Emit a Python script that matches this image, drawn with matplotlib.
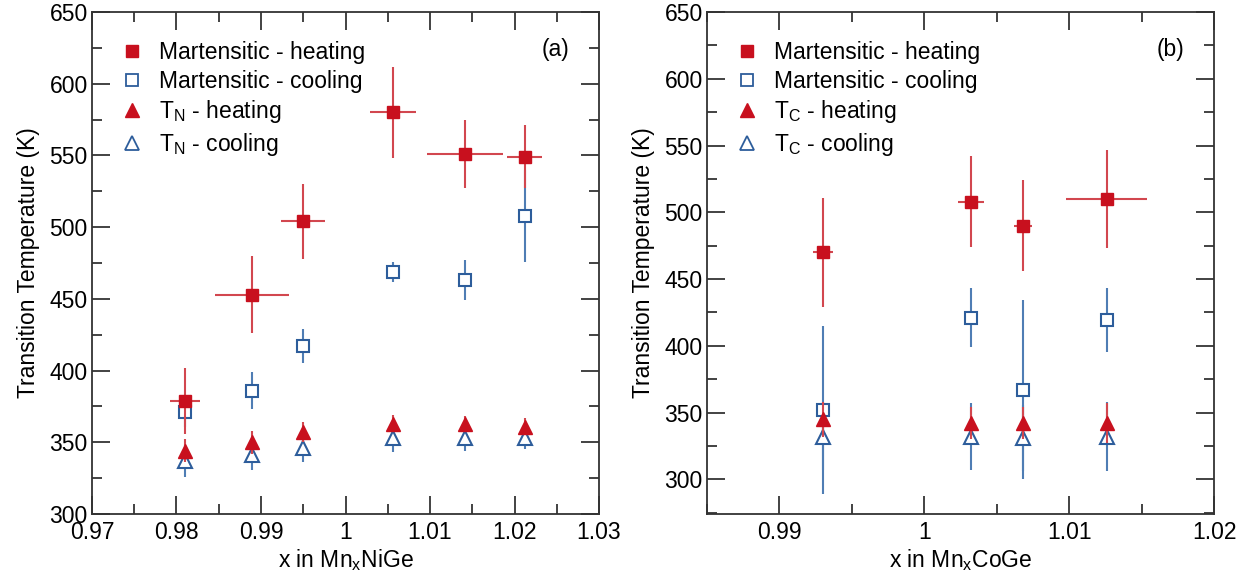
import matplotlib.pyplot as plt
from matplotlib.lines import Line2D
from matplotlib.ticker import MultipleLocator, FuncFormatter

plt.rcParams['font.family'] = ['Liberation Sans', 'DejaVu Sans']
plt.rcParams['mathtext.fontset'] = 'custom'
plt.rcParams['mathtext.rm'] = 'Liberation Sans'

# Mn_x NiGe
x_ni = [0.981, 0.9889, 0.995, 1.0056, 1.0141, 1.0212]
xerr_ni = [0.0018, 0.0044, 0.0026, 0.0027, 0.0045, 0.0021]
mart_heat_ni = [379, 453, 504, 580, 551, 549]
mart_heat_ni_err = [23, 27, 26, 32, 24, 22]
mart_cool_ni = [371, 386, 417, 469, 463, 508]
mart_cool_ni_err = [10, 13, 12, 7, 14, 32]
tn_heat = [344, 350, 357, 363, 363, 361]
tn_heat_err = [8, 8, 7, 6, 5, 6]
tn_cool = [337, 341, 346, 353, 353, 353]
tn_cool_err = [11, 10, 10, 10, 9, 8]

# Mn_x CoGe
x_co = [0.993, 1.0032, 1.0068, 1.0126]
xerr_co = [0.0007, 0.0009, 0.0006, 0.0028]
mart_heat_co = [470, 508, 490, 510]
mart_heat_co_err = [41, 34, 34, 37]
mart_cool_co = [352, 421, 367, 419]
mart_cool_co_err = [63, 22, 67, 24]
tc_heat = [345, 342, 342, 342]
tc_heat_err = [13, 12, 12, 15]
tc_cool = [332, 332, 331, 332]
tc_cool_err = [25, 25, 25, 26]

RED = '#c8101e'
RED_BAR = '#d2474f'
BLUE = '#2d5d9b'
BLUE_BAR = '#4f7db4'
FS = 16.5

fig = plt.figure(figsize=(12.48, 5.81), dpi=100)
ax1 = fig.add_axes([0.0737, 0.1153, 0.4063, 0.864])
ax2 = fig.add_axes([0.5665, 0.1153, 0.4063, 0.864])


def draw(ax, x, xerr, mh, mh_e, mc, mc_e, th, th_e, tcl, tcl_e):
    ax.errorbar(x, tcl, yerr=tcl_e, fmt='^', ms=10, mfc='white', mec=BLUE, mew=1.5,
                ecolor=BLUE_BAR, elinewidth=1.5, capsize=0, zorder=2)
    ax.errorbar(x, mc, yerr=mc_e, fmt='s', ms=8.5, mfc='white', mec=BLUE, mew=1.5,
                ecolor=BLUE_BAR, elinewidth=1.5, capsize=0, zorder=2)
    ax.errorbar(x, th, yerr=th_e, fmt='^', ms=10, mfc=RED, mec=RED, mew=1,
                ecolor=RED_BAR, elinewidth=1.5, capsize=0, zorder=3)
    ax.errorbar(x, mh, yerr=mh_e, xerr=xerr, fmt='s', ms=9, mfc=RED, mec=RED, mew=1,
                ecolor=RED_BAR, elinewidth=1.5, capsize=0, zorder=3)


draw(ax1, x_ni, xerr_ni, mart_heat_ni, mart_heat_ni_err, mart_cool_ni, mart_cool_ni_err,
     tn_heat, tn_heat_err, tn_cool, tn_cool_err)
draw(ax2, x_co, xerr_co, mart_heat_co, mart_heat_co_err, mart_cool_co, mart_cool_co_err,
     tc_heat, tc_heat_err, tc_cool, tc_cool_err)

ax1.set_xlim(0.97, 1.03)
ax1.set_ylim(300, 650)
ax2.set_xlim(0.985, 1.02)
ax2.set_ylim(274, 650)

fmt = FuncFormatter(lambda v, p: '%g' % round(v, 4))
for ax, sym, comp, tag in [(ax1, 'N', 'Ni', '(a)'), (ax2, 'C', 'Co', '(b)')]:
    ax.xaxis.set_major_locator(MultipleLocator(0.01))
    ax.xaxis.set_minor_locator(MultipleLocator(0.005))
    ax.yaxis.set_major_locator(MultipleLocator(50))
    ax.yaxis.set_minor_locator(MultipleLocator(25))
    ax.xaxis.set_major_formatter(fmt)
    ax.tick_params(which='both', direction='in', top=True, right=True,
                   labelsize=FS, color='#222222', width=1.2)
    ax.tick_params(which='major', length=13)
    ax.tick_params(which='minor', length=7)
    ax.tick_params(axis='x', which='major', pad=5)
    ax.tick_params(axis='y', which='major', pad=3)
    for s in ax.spines.values():
        s.set_linewidth(1.3)
        s.set_color('#333333')
    ax.set_ylabel('Transition Temperature (K)', fontsize=FS, labelpad=7)
    ax.set_xlabel('x in Mn$_\\mathregular{x}$' + comp + 'Ge', fontsize=FS, labelpad=2)
    ax.text(0.942, 0.925, tag, transform=ax.transAxes, fontsize=FS,
            ha='right', va='center')

    handles = [
        Line2D([], [], ls='none', marker='s', ms=9, mfc=RED, mec=RED),
        Line2D([], [], ls='none', marker='s', ms=8.5, mfc='white', mec=BLUE, mew=1.3),
        Line2D([], [], ls='none', marker='^', ms=10, mfc=RED, mec=RED),
        Line2D([], [], ls='none', marker='^', ms=10, mfc='white', mec=BLUE, mew=1.3),
    ]
    labels = ['Martensitic - heating', 'Martensitic - cooling',
              'T$_\\mathregular{%s}$ - heating' % sym,
              'T$_\\mathregular{%s}$ - cooling' % sym]
    ax.legend(handles, labels, loc='upper left', bbox_to_anchor=(0.03, 0.97),
              frameon=False, fontsize=FS, handlelength=1.0, handletextpad=0.65,
              labelspacing=0.25, borderaxespad=0.2)

fig.savefig('out.png', dpi=100)
